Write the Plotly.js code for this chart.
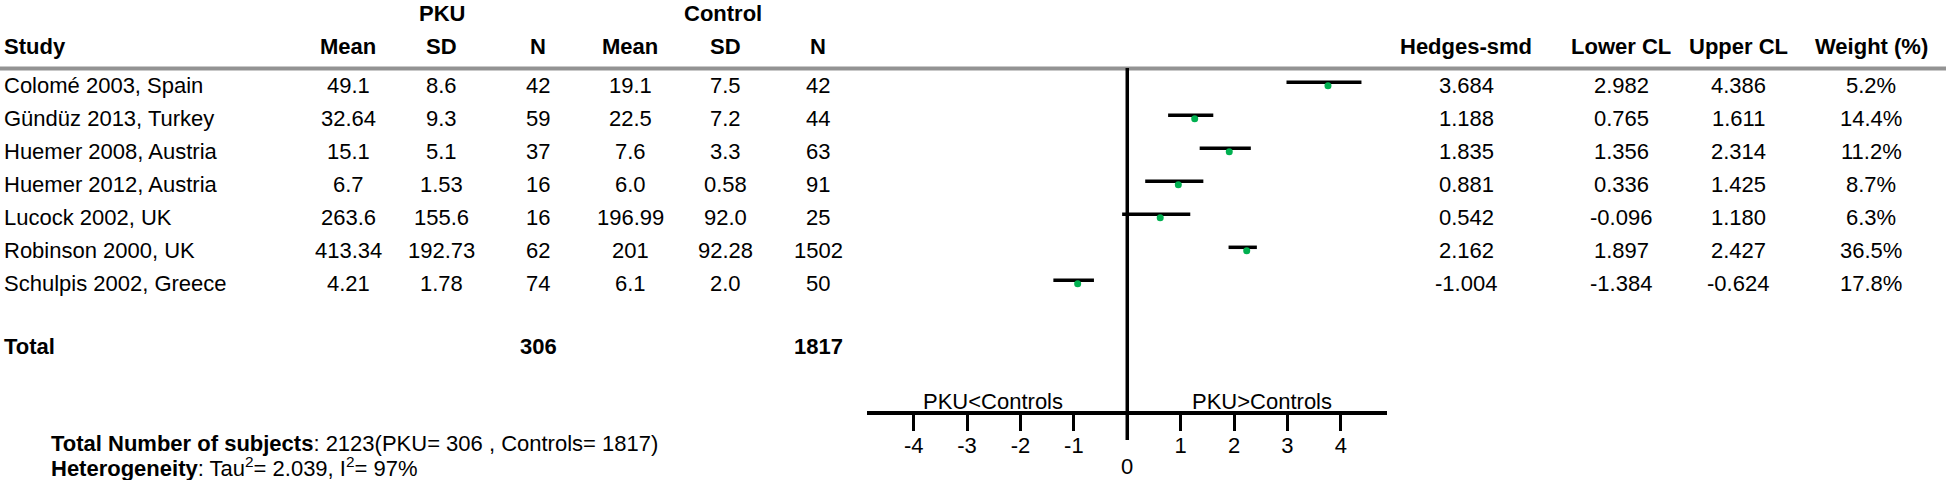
<!DOCTYPE html>
<html>
<head>
<meta charset="utf-8">
<script src="https://cdn.plot.ly/plotly-3.0.1.min.js"></script>
<style>
  html, body { margin: 0; padding: 0; background: #fff; }
  #myDiv { width: 1946px; height: 480px; }
</style>
</head>
<body>
<div id="myDiv"></div>
<script>
// study table
var studies = ['Colomé 2003, Spain', 'Gündüz 2013, Turkey', 'Huemer 2008, Austria',
               'Huemer 2012, Austria', 'Lucock 2002, UK', 'Robinson 2000, UK',
               'Schulpis 2002, Greece'];
var pkuMean = ['49.1', '32.64', '15.1', '6.7', '263.6', '413.34', '4.21'];
var pkuSd   = ['8.6', '9.3', '5.1', '1.53', '155.6', '192.73', '1.78'];
var pkuN    = [42, 59, 37, 16, 16, 62, 74];
var ctlMean = ['19.1', '22.5', '7.6', '6.0', '196.99', '201', '6.1'];
var ctlSd   = ['7.5', '7.2', '3.3', '0.58', '92.0', '92.28', '2.0'];
var ctlN    = [42, 44, 63, 91, 25, 1502, 50];
var smd     = [3.684, 1.188, 1.835, 0.881, 0.542, 2.162, -1.004];
var lowerCL = [2.982, 0.765, 1.356, 0.336, -0.096, 1.897, -1.384];
var upperCL = [4.386, 1.611, 2.314, 1.425, 1.180, 2.427, -0.624];
var weight  = [5.2, 14.4, 11.2, 8.7, 6.3, 36.5, 17.8];
var tickVals = [-4, -3, -2, -1, 1, 2, 3, 4];
var tau2 = '2.039';
var iSq = '97%';

var W = 1946, H = 480;
var FONT = 'Liberation Sans, Arial, Helvetica, sans-serif';
var FS = 22;

function px(p) { return p / W; }
function py(p) { return 1 - p / H; }
function sum(a) { var s = 0; for (var i = 0; i < a.length; i++) s += a[i]; return s; }

/**************************************************************/
// row layout: row i sits at rowTop + i*rowStep pixels
var rowTop = 85.7, rowStep = 33;
var barLift = 3.4;   // CI bars are drawn slightly above the dots
var xr = [-4.88, 4.87];
var dotShift = 0.075;

var cols = [
  { x: 348,  vals: pkuMean },
  { x: 441.7, vals: pkuSd },
  { x: 538,  vals: pkuN },
  { x: 630,  vals: ctlMean },
  { x: 725,  vals: ctlSd },
  { x: 818,  vals: ctlN },
  { x: 1466, vals: smd.map(function (v) { return v.toFixed(3); }) },
  { x: 1621, vals: lowerCL.map(function (v) { return v.toFixed(3); }) },
  { x: 1738, vals: upperCL.map(function (v) { return v.toFixed(3); }) },
  { x: 1871, vals: weight.map(function (v) { return v.toFixed(1) + '%'; }) }
];
var headers = ['Mean', 'SD', 'N', 'Mean', 'SD', 'N', 'Hedges-smd', 'Lower CL', 'Upper CL', 'Weight (%)'];

function ann(text, x, y, opts) {
  var a = {
    text: text, x: x, y: y, xref: 'paper', yref: 'paper',
    xanchor: 'center', yanchor: 'middle', showarrow: false, borderpad: 0,
    font: { family: FONT, size: FS, color: '#000' }
  };
  for (var k in opts) a[k] = opts[k];
  return a;
}

var annotations = [];
// group headers
annotations.push(ann('<b>PKU</b>', px(441.7), py(13)));
annotations.push(ann('<b>Control</b>', px(723.3), py(13)));
annotations.push(ann('<b>Study</b>', px(3), py(47), { xanchor: 'left' }));
for (var c = 0; c < cols.length; c++) {
  annotations.push(ann('<b>' + headers[c] + '</b>', px(cols[c].x), py(47)));
}
// study rows
for (var i = 0; i < studies.length; i++) {
  annotations.push(ann(studies[i], px(3), i, { xanchor: 'left', yref: 'y' }));
  for (var c = 0; c < cols.length; c++) {
    annotations.push(ann(String(cols[c].vals[i]), px(cols[c].x), i, { yref: 'y' }));
  }
}
// totals
var totPku = sum(pkuN), totCtl = sum(ctlN);
annotations.push(ann('<b>Total</b>', px(3), py(346), { xanchor: 'left' }));
annotations.push(ann('<b>' + totPku + '</b>', px(538), py(346)));
annotations.push(ann('<b>' + totCtl + '</b>', px(818), py(346)));
// direction labels and the zero tick label
annotations.push(ann('PKU&lt;Controls', px(993), py(401)));
annotations.push(ann('PKU&gt;Controls', px(1262), py(401)));
annotations.push(ann('0', 0, py(466), { xref: 'x' }));
// footnotes
annotations.push(ann('<b>Total Number of subjects</b>: ' + (totPku + totCtl) +
  '(PKU= ' + totPku + ' , Controls= ' + totCtl + ')', px(50), py(443), { xanchor: 'left' }));
annotations.push(ann('<b>Heterogeneity</b>: Tau<sup>2</sup>= ' + tau2 + ', I<sup>2</sup>= ' + iSq,
  px(50), py(467), { xanchor: 'left' }));

/**************************************************************/
// CI bars and point estimates
var barX = [], barY = [];
for (var i = 0; i < smd.length; i++) {
  barX.push(lowerCL[i], upperCL[i], null);
  barY.push(i, i, null);
}
var idx = smd.map(function (v, i) { return i; });

var data = [
  { x: barX, y: barY, xaxis: 'x', yaxis: 'y2', type: 'scatter', mode: 'lines',
    line: { color: '#000', width: 3.5 }, hoverinfo: 'skip', showlegend: false },
  { x: smd, y: idx, xaxis: 'x2', yaxis: 'y', type: 'scatter', mode: 'markers',
    marker: { color: '#00b050', size: 7, symbol: 'circle' }, showlegend: false }
];

var yTop = -rowTop / rowStep, yBot = (H - rowTop) / rowStep;
var lift = barLift / rowStep;

var layout = {
  width: W, height: H,
  margin: { l: 0, r: 0, t: 0, b: 0, pad: 0 },
  paper_bgcolor: '#fff', plot_bgcolor: 'rgba(0,0,0,0)',
  showlegend: false,
  font: { family: FONT, size: FS, color: '#000' },
  xaxis: {
    domain: [px(866.7), px(1387.3)], range: xr,
    anchor: 'free', position: py(412),
    showline: true, linecolor: '#000', linewidth: 3.5,
    showgrid: false, zeroline: false,
    ticks: 'outside', ticklen: 16, tickwidth: 3, tickcolor: '#000',
    tickvals: tickVals, ticktext: tickVals.map(String),
    ticklabelstandoff: -4,
    tickfont: { family: FONT, size: FS, color: '#000' },
    fixedrange: true
  },
  xaxis2: {
    overlaying: 'x', domain: [px(866.7), px(1387.3)],
    range: [xr[0] - dotShift, xr[1] - dotShift], visible: false, fixedrange: true
  },
  yaxis: { domain: [0, 1], range: [yBot, yTop], visible: false, fixedrange: true },
  yaxis2: { overlaying: 'y', range: [yBot + lift, yTop + lift], visible: false, fixedrange: true },
  shapes: [
    { type: 'line', xref: 'paper', yref: 'paper', x0: 0, x1: 1, y0: py(68.5), y1: py(68.5),
      line: { color: '#939393', width: 4 } },
    { type: 'line', xref: 'x', yref: 'paper', x0: 0, x1: 0, y0: py(440), y1: py(68),
      line: { color: '#000', width: 3.5 } }
  ],
  annotations: annotations
};

Plotly.newPlot('myDiv', data, layout, { displayModeBar: false, staticPlot: true });
</script>
</body>
</html>
